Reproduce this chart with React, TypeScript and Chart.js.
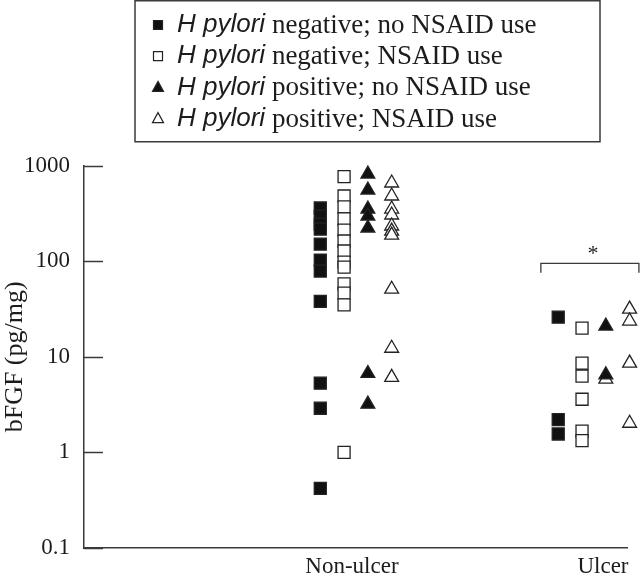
import { useEffect, useRef } from "react";
import { Chart, registerables } from "chart.js";

Chart.register(...registerables);

// ---- data ----
const categories = ["Non-ulcer", "Ulcer"];
const categoryCenters = [1, 2];
const categoryLabelAt = [0.983, 2.038];
const yTickValues = [0.1, 1, 10, 100, 1000];
const yTitle = "bFGF (pg/mg)";

const seriesItalic = ["H pylori", "H pylori", "H pylori", "H pylori"];
const seriesRest = [
  " negative; no NSAID use",
  " negative; NSAID use",
  " positive; no NSAID use",
  " positive; NSAID use",
];

// column slot for each series within a category
const columnOffsets = [-0.15, -0.05, 0.05, 0.15];

// H pylori negative; no NSAID use
const negNoNsaidNonUlcer = [361, 297, 245, 217, 151, 103, 79, 38, 5.3, 2.9, 0.42];
const negNoNsaidUlcer = [26, 2.2, 1.56];
// H pylori negative; NSAID use
const negNsaidNonUlcer = [767, 482, 370, 277, 212, 163, 128, 98, 87, 58, 46.5, 35, 1.0];
const negNsaidUlcer = [20, 8.6, 6.3, 3.6, 1.67, 1.33];
// H pylori positive; no NSAID use
const posNoNsaidNonUlcer = [818, 557, 352, 297, 223, 6.7, 3.2];
const posNoNsaidUlcer = [21, 6.5];
// H pylori positive; NSAID use
const posNsaidNonUlcer = [659, 482, 352, 305, 234, 207, 188, 51, 12.3, 6.1];
const posNsaidUlcer = [31.6, 23.7, 8.6, 5.85, 2.02];
const posNsaidUlcerColumns = [3, 3, 3, 2, 3];

// significance bracket over ulcer group
const bracketX = [1.777, 2.189];
const bracketY = [95, 76];
const asteriskAt = { x: 1.996, y: 131 };

// ---- styles ----
const SERIF = "'Liberation Serif', 'Times New Roman', serif";
const SANS = "'Liberation Sans', Arial, sans-serif";
const INK = "#1c1c1c";
const AXIS = "#3a3a3a";

function makePoints(nonUlcer: number[], ulcer: number[], col: number, ulcerCols?: number[]) {
  return [
    ...nonUlcer.map((v) => ({ x: categoryCenters[0] + columnOffsets[col], y: v })),
    ...ulcer.map((v, i) => ({
      x: categoryCenters[1] + columnOffsets[ulcerCols ? ulcerCols[i] : col],
      y: v,
    })),
  ];
}

const seriesStyle = [
  { style: "rect", fill: "#111", radius: 8.5 },
  { style: "rect", fill: "#fff", radius: 8.5 },
  { style: "triangle", fill: "#111", radius: 8 },
  { style: "triangle", fill: "#fff", radius: 8 },
];

const legendPlugin = {
  id: "customLegend",
  afterDraw(chart: any) {
    const ctx: CanvasRenderingContext2D = chart.ctx;
    ctx.save();
    ctx.strokeStyle = AXIS;
    ctx.lineWidth = 1.5;
    ctx.strokeRect(135, 0.75, 465, 141);
    for (let i = 0; i < 4; i++) {
      const cy = 25 + i * 31.2;
      const mx = 158;
      const st = seriesStyle[i];
      ctx.lineWidth = 1.2;
      ctx.strokeStyle = "#222";
      ctx.fillStyle = st.fill;
      ctx.beginPath();
      if (st.style === "rect") {
        ctx.rect(mx - 4.5, cy - 4.5, 9, 9);
      } else {
        ctx.moveTo(mx, cy - 6);
        ctx.lineTo(mx + 5.5, cy + 4);
        ctx.lineTo(mx - 5.5, cy + 4);
        ctx.closePath();
      }
      ctx.fill();
      ctx.stroke();
      ctx.fillStyle = INK;
      ctx.textBaseline = "middle";
      ctx.textAlign = "left";
      let x = 177;
      ctx.font = `italic 26px ${SANS}`;
      ctx.fillText(seriesItalic[i], x, cy);
      x += ctx.measureText(seriesItalic[i]).width;
      ctx.font = `27px ${SERIF}`;
      ctx.fillText(seriesRest[i], x, cy + 1);
    }
    ctx.restore();
  },
};

const axisExtrasPlugin = {
  id: "axisExtras",
  beforeDatasetsDraw(chart: any) {
    const ctx: CanvasRenderingContext2D = chart.ctx;
    const { chartArea, scales } = chart;
    ctx.save();
    ctx.strokeStyle = AXIS;
    ctx.lineWidth = 1.5;
    yTickValues.forEach((v) => {
      const py = Math.round(scales.y.getPixelForValue(v)) + 0.5;
      ctx.beginPath();
      ctx.moveTo(chartArea.left, py);
      ctx.lineTo(chartArea.left + 19, py);
      ctx.stroke();
    });
    // bracket
    const x1 = scales.x.getPixelForValue(bracketX[0]);
    const x2 = scales.x.getPixelForValue(bracketX[1]);
    const yTop = scales.y.getPixelForValue(bracketY[0]);
    const yEnd = scales.y.getPixelForValue(bracketY[1]);
    ctx.lineWidth = 1.3;
    ctx.beginPath();
    ctx.moveTo(x1, yEnd);
    ctx.lineTo(x1, yTop);
    ctx.lineTo(x2, yTop);
    ctx.lineTo(x2, yEnd);
    ctx.stroke();
    ctx.fillStyle = INK;
    ctx.font = `22px ${SERIF}`;
    ctx.textAlign = "center";
    ctx.textBaseline = "middle";
    ctx.fillText("*", scales.x.getPixelForValue(asteriskAt.x), scales.y.getPixelForValue(asteriskAt.y) + 4);
    ctx.restore();
  },
};

export default function App() {
  const ref = useRef<HTMLCanvasElement | null>(null);
  useEffect(() => {
    if (!ref.current) return;
    const dataSets = [
      makePoints(negNoNsaidNonUlcer, negNoNsaidUlcer, 0),
      makePoints(negNsaidNonUlcer, negNsaidUlcer, 1),
      makePoints(posNoNsaidNonUlcer, posNoNsaidUlcer, 2),
      makePoints(posNsaidNonUlcer, posNsaidUlcer, 3, posNsaidUlcerColumns),
    ];
    const chart = new Chart(ref.current, {
      type: "scatter",
      data: {
        datasets: dataSets.map((d, i) => ({
          label: seriesItalic[i] + seriesRest[i],
          data: d,
          pointStyle: seriesStyle[i].style as any,
          pointRadius: seriesStyle[i].radius,
          pointHoverRadius: seriesStyle[i].radius,
          backgroundColor: seriesStyle[i].fill,
          borderColor: "#222",
          borderWidth: 1.3,
          clip: false as any,
        })),
      },
      options: {
        animation: false,
        responsive: false,
        events: [],
        layout: { padding: { left: 0, top: 165.7, right: 13, bottom: 0 } },
        plugins: { legend: { display: false }, tooltip: { enabled: false } },
        scales: {
          x: {
            type: "linear",
            min: -0.143,
            max: 2.139,
            grid: { display: false, drawTicks: false },
            border: { display: true, color: AXIS, width: 1.5 },
            ticks: {
              autoSkip: false,
              maxRotation: 0,
              minRotation: 0,
              padding: 5,
              color: INK,
              font: { family: SERIF, size: 23 },
              callback: (_v: any, i: number) => categories[i],
            },
            afterBuildTicks: (s: any) => {
              s.ticks = categoryLabelAt.map((v) => ({ value: v }));
            },
            afterFit: (s: any) => {
              s.height = 28;
              s.paddingLeft = 0;
              s.paddingRight = 0;
            },
          },
          y: {
            type: "logarithmic",
            min: 0.1,
            max: 1000,
            grid: { display: false, drawTicks: false },
            border: { display: true, color: AXIS, width: 1.5 },
            ticks: {
              padding: 14,
              color: INK,
              font: { family: SERIF, size: 23 },
              callback: (v: any) => String(v),
            },
            afterBuildTicks: (s: any) => {
              s.ticks = yTickValues.map((v) => ({ value: v }));
            },
            afterFit: (s: any) => {
              s.width = 84;
              s.paddingTop = 0;
              s.paddingBottom = 0;
            },
            title: {
              display: true,
              text: yTitle,
              color: INK,
              font: { family: SERIF, size: 26 },
              padding: 0,
            },
          },
        },
      },
      plugins: [legendPlugin, axisExtrasPlugin],
    });
    return () => chart.destroy();
  }, []);
  return (
    <canvas
      ref={ref}
      width={640}
      height={576}
      style={{ position: "absolute", left: 0, top: 0, display: "block", background: "#fff" }}
    />
  );
}
